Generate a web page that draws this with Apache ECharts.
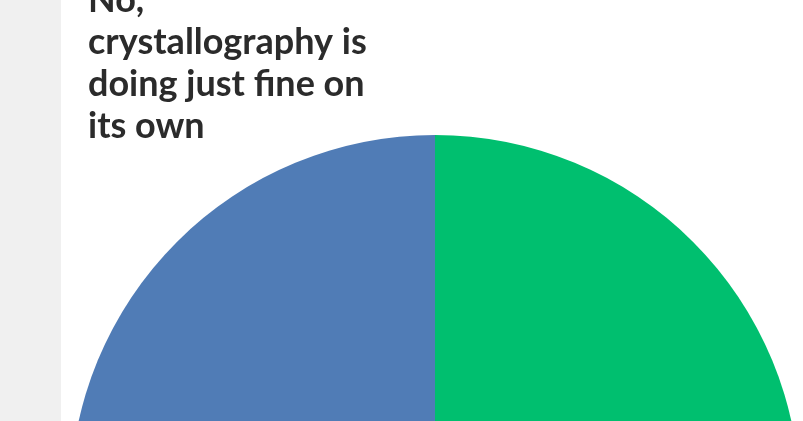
<!DOCTYPE html>
<html>
<head>
<meta charset="utf-8">
<script src="https://cdn.jsdelivr.net/npm/echarts@6/dist/echarts.min.js"></script>
<style>
  html, body { margin: 0; padding: 0; background: #ffffff; }
  #main { width: 803px; height: 421px; }
</style>
</head>
<body>
<div id="main"></div>
<script>
// answers (clockwise from 12 o'clock)
var categories = ["Yes", "No, crystallography is doing just fine on its own"];
var values = [50, 50];
var colors = ["#00bf6f", "#507cb6"];
var labelText = "No,\ncrystallography is\ndoing just fine on\nits own";

var myChart = echarts.init(document.getElementById("main"));

var option = {
  animation: false,
  title: {
    text: labelText,
    left: 88,
    top: -21,
    padding: 0,
    textStyle: {
      fontFamily: "Lato",
      fontWeight: "bold",
      fontSize: 36,
      lineHeight: 42,
      color: "#2b2b2b",
    },
  },
  graphic: [
    {
      type: "rect",
      left: 0,
      top: 0,
      shape: { width: 61, height: 421 },
      style: { fill: "#f0f0f0" },
      z: -1,
    },
  ],
  series: [
    {
      type: "pie",
      center: [435, 500],
      radius: 365,
      startAngle: 90,
      clockwise: true,
      label: { show: false },
      labelLine: { show: false },
      itemStyle: { borderWidth: 0 },
      data: categories.map(function (c, i) {
        return { name: c, value: values[i], itemStyle: { color: colors[i] } };
      }),
    },
  ],
};

myChart.setOption(option);
</script>
</body>
</html>
